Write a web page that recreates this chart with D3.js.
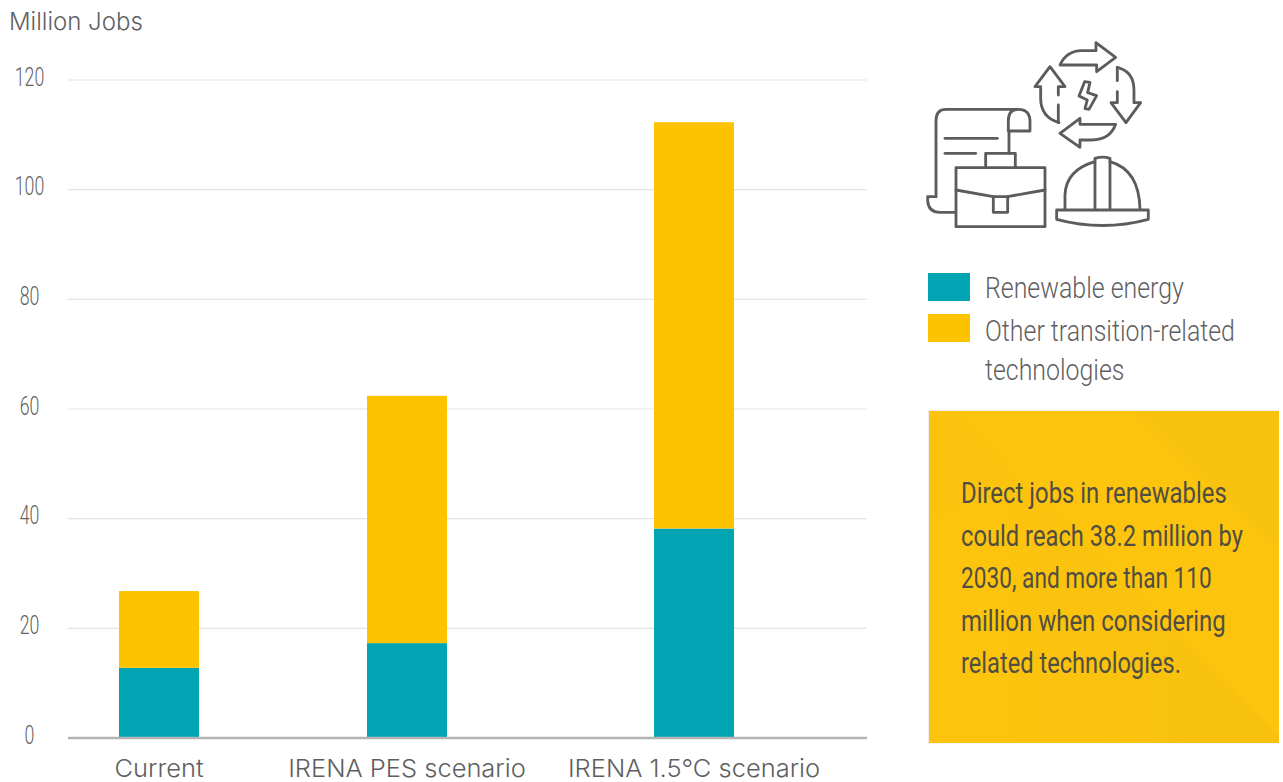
<!DOCTYPE html>
<html><head><meta charset="utf-8">
<script src="https://cdnjs.cloudflare.com/ajax/libs/d3/7.8.5/d3.min.js"></script>
<style>html,body{margin:0;padding:0;background:#fff}svg{display:block}
text{font-family:Roboto,sans-serif;font-weight:300}</style></head><body>
<svg id="c" width="1283" height="782"></svg>
<script>
const categories = ["Current", "IRENA PES scenario", "IRENA 1.5°C scenario"];
const renewable = [12.8, 17.3, 38.2];
const otherTech = [14.0, 45.1, 74.1];
const yTicks = [0, 20, 40, 60, 80, 100, 120];
const seriesNames = ["Renewable energy", "Other transition-related", "technologies"];
const yTitle = "Million Jobs";
const panelLines = ["Direct jobs in renewables", "could reach 38.2 million by", "2030, and more than 110", "million when considering", "related technologies."];

const TEAL = "#00a4b2", GOLD = "#fdc300", INK = "#5f5f5f";
const svg = d3.select("#c");
const y = d3.scaleLinear().domain([0, 120]).range([738, 80]);
const x = d3.scaleOrdinal().domain(categories).range([159, 407, 694]);
const barW = 80;
const panelWidths = [266, 282, 251, 265, 220];

// horizontally condense text (no condensed face is installed)
function narrow(sel, k) {
  sel.each(function (d, i) {
    const tx = +this.getAttribute("x") || 0, ty = +this.getAttribute("y") || 0;
    const f = typeof k === "function" ? k.call(this, d, i) : k;
    this.setAttribute("x", 0);
    this.setAttribute("y", 0);
    this.setAttribute("transform", `translate(${tx},${ty}) scale(${f},1)`);
  });
  return sel;
}

// grid + y axis
const axis = svg.append("g").attr("transform", "translate(68,0)")
  .call(d3.axisLeft(y).tickValues(yTicks).tickSize(-799).tickPadding(25).tickFormat(d3.format("d")).offset(0));
axis.select(".domain").remove();
axis.selectAll(".tick line").attr("stroke", "#e4e4e4").attr("stroke-width", 1.2);
axis.selectAll(".tick text").attr("text-anchor", "middle").attr("x", -38.5).attr("y", -2.5).attr("dy", "0.32em")
  .attr("fill", INK).style("font-size", "25px").style("opacity", 0.99);
narrow(axis.selectAll(".tick text"), 0.71);

// stacked bars
const rows = categories.map((c, i) => ({c, a: renewable[i], b: otherTech[i]}));
const stacked = d3.stack().keys(["a", "b"])(rows);
svg.selectAll("g.s").data(stacked).join("g").attr("class", "s")
  .attr("fill", (d, i) => [TEAL, GOLD][i])
  .selectAll("rect").data(d => d).join("rect")
  .attr("x", d => x(d.data.c) - barW / 2).attr("width", barW)
  .attr("y", d => y(d[1])).attr("height", d => y(d[0]) - y(d[1]));

// baseline
svg.append("line").attr("x1", 68).attr("x2", 867).attr("y1", y(0)).attr("y2", y(0))
  .attr("stroke", "#b4b4b4").attr("stroke-width", 2.4);

// category labels
svg.selectAll("text.cat").data(categories).join("text").attr("class", "cat")
  .attr("x", d => x(d)).attr("y", 776.5).attr("text-anchor", "middle")
  .attr("fill", INK).style("font-family", "Inter,sans-serif").style("font-size", "24.5px").text(d => d);
narrow(svg.selectAll("text.cat"), 1.04);

// y title
svg.append("text").attr("x", 9).attr("y", 30).attr("fill", INK)
  .style("font-family", "Inter,sans-serif").style("font-size", "24px").text(yTitle);

// icon
const icon = svg.append("g").attr("transform", "translate(910,30) scale(0.3333)")
  .attr("fill", "none").attr("stroke", "#5c5c5c").attr("stroke-width", 8.5)
  .attr("stroke-linejoin", "round").attr("stroke-linecap", "round");
[
 "M78 500V272Q78 238 108 238H325Q360 238 360 275V303H295V272Q295 238 325 238",
 "M297 303V370", "M105 325H262", "M105 370H197",
 "M78 500H53V512Q55 547 90 547H137",
 "M138 413H405V590H138Z", "M227 413V370H316V413",
 "M138 480L250 500H293L405 480", "M250 500V547H293V500",
 "M465 538V495Q468 420 555 395", "M600 395Q688 420 690 538",
 "M555 538V385Q578 378 600 385V538",
 "M440 540H715V568Q578 605 440 568Z",
 "M450 105Q470 62 515 62H558V38L617 82L560 125V105Z",
 "M622 112Q672 125 672 180V218H692L648 278L603 218H622V185", "M622 112V152",
 "M617 283Q600 330 545 330H510V352L450 310L510 265V283Z",
 "M447 278Q392 262 392 205V170H375L420 110L465 170H445V195", "M445 225V278",
 "M524 155L540 157L533 188L560 197L537 238L525 236L532 210L507 198Z"
].forEach(d => icon.append("path").attr("d", d));

// legend
svg.append("rect").attr("x", 928).attr("y", 273).attr("width", 42).attr("height", 28).attr("fill", TEAL);
svg.append("rect").attr("x", 928).attr("y", 314).attr("width", 42).attr("height", 28).attr("fill", GOLD);
svg.selectAll("text.leg").data(seriesNames).join("text").attr("class", "leg")
  .attr("x", 985).attr("y", (d, i) => [298, 341, 380][i])
  .attr("fill", INK).style("font-size", "30px").text(d => d);
narrow(svg.selectAll("text.leg"), 0.83);

// panel
const grad = svg.append("defs").append("linearGradient").attr("id", "fade");
grad.append("stop").attr("offset", "0%").attr("stop-color", "#fdc40d");
grad.append("stop").attr("offset", "100%").attr("stop-color", "#f7c10e");
svg.append("rect").attr("x", 928).attr("y", 410).attr("width", 351).attr("height", 333.5).attr("fill", "#eeeeee");
svg.append("rect").attr("x", 929).attr("y", 411).attr("width", 350).attr("height", 332).attr("fill", "#fdc40d");
[
 ["1133,411 1279,411 1279,552", "#f8c20f"],
 ["929,411 953,411 1020,478 929,520", "#fbc30e"],
 ["953,411 1279,737 1279,743 1010,743 1010,468", "url(#fade)"]
].forEach(p => svg.append("polygon").attr("points", p[0]).attr("fill", p[1]));
svg.selectAll("text.pan").data(panelLines).join("text").attr("class", "pan")
  .attr("x", 961).attr("y", (d, i) => 503 + i * 42.6)
  .attr("fill", "#504e43").style("font-size", "30px").style("font-weight", 400).text(d => d);
narrow(svg.selectAll("text.pan"), function (d, i) { return panelWidths[i] / this.getComputedTextLength(); });
</script></body></html>
